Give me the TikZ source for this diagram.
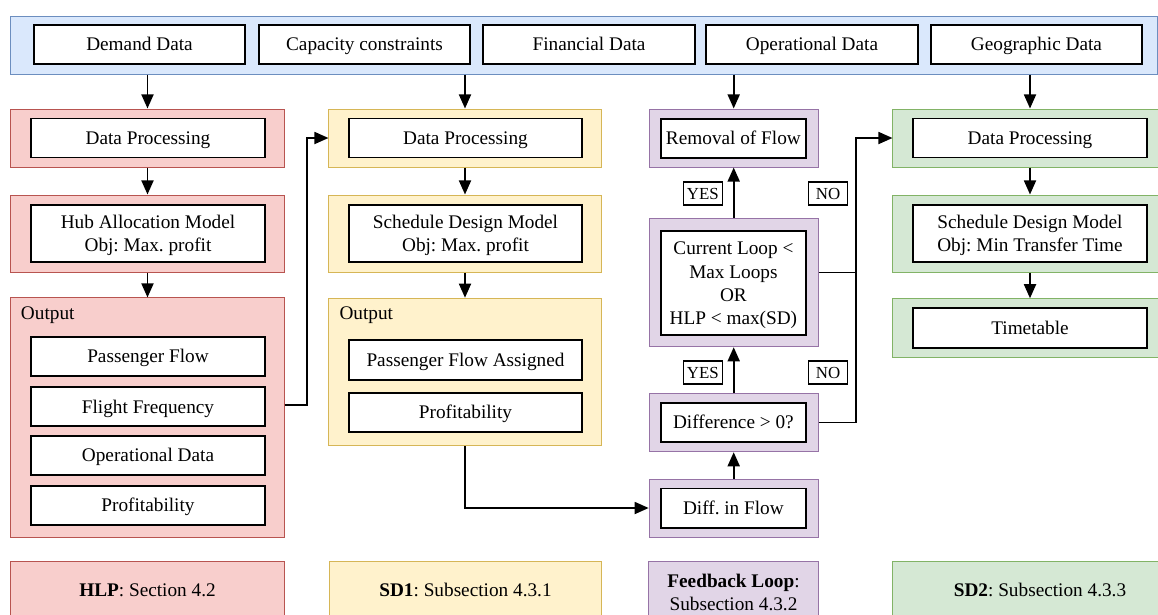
\documentclass[tikz,border=0pt]{standalone}
\usepackage{fontspec}
\setmainfont{Liberation Serif}
\usepackage{xcolor}
\usepackage{tikz}
\usetikzlibrary{arrows, arrows.meta}
\frenchspacing

\definecolor{bandfill}{HTML}{DAE8FC}
\definecolor{bandline}{HTML}{6C8EBF}
\definecolor{hlpfill}{HTML}{F8CECC}
\definecolor{hlpline}{HTML}{B85450}
\definecolor{sdafill}{HTML}{FFF2CC}
\definecolor{sdaline}{HTML}{D6B656}
\definecolor{fbfill}{HTML}{E1D5E7}
\definecolor{fbline}{HTML}{9673A6}
\definecolor{sdbfill}{HTML}{D5E8D4}
\definecolor{sdbline}{HTML}{82B366}

% strut for the first line of multi-line boxes
\newcommand{\lnstrut}{\rule{0pt}{12.2pt}}

\tikzset{
  every node/.style={font=\fontsize{13.7}{16.4}\selectfont},
  oneline/.style={text height=12.2pt, text depth=3pt},
  grp/.style={line width=0.7pt, inner sep=0pt, align=center},
  band/.style={grp, draw=bandline, fill=bandfill},
  hlp/.style={grp, draw=hlpline, fill=hlpfill, minimum width=6.825cm},
  sda/.style={grp, draw=sdaline, fill=sdafill, minimum width=6.8cm},
  fb/.style={grp, draw=fbline, fill=fbfill, minimum width=4.225cm},
  sdb/.style={grp, draw=sdbline, fill=sdbfill, minimum width=6.85cm},
  item/.style={draw=black, fill=white, line width=1.4pt, align=center, inner sep=1pt,
    minimum width=5.85cm, minimum height=0.975cm},
  itemone/.style={item, oneline},
  tag/.style={draw=black, line width=1.1pt, inner sep=0pt, minimum width=0.975cm,
    minimum height=0.575cm, text height=10.7pt, text depth=2.6pt, font=\fontsize{12}{14}\selectfont},
  arr/.style={-{Triangle[length=10pt,width=8.5pt]}, line width=1.4pt},
  conn/.style={line width=1.4pt}
}

\begin{document}
\begin{tikzpicture}[x=0.025cm, y=-0.025cm]
\clip (0,0) rectangle (1158,614);

%input data
\node[band, minimum width=28.65cm, minimum height=1.45cm] (band) at (584,45) {};
\node[itemone, minimum width=5.275cm] (dem) at (139.5,44.5) {Demand Data};
\node[itemone, minimum width=5.275cm] (cap) at (364.5,44.5) {Capacity constraints};
\node[itemone, minimum width=5.275cm] (fin) at (589,44.5) {Financial Data};
\node[itemone, minimum width=5.275cm] (opd) at (812,44.5) {Operational Data};
\node[itemone, minimum width=5.275cm] (geo) at (1036.5,44.5) {Geographic Data};

%HLP column
\node[hlp, minimum height=1.45cm] (hlpa) at (147.5,138) {};
\node[itemone] (hlpproc) at (148,138) {Data Processing};
\node[hlp, minimum height=1.925cm] (hlpb) at (147.5,233.5) {};
\node[item, minimum height=1.425cm] (hlpmodel) at (148,233.5) {\lnstrut Hub Allocation Model\\Obj: Max. profit};
\node[hlp, minimum height=5.975cm] (hlpout) at (147.5,417.5) {};
\node[anchor=west, inner sep=0pt, oneline] (hlpoutlbl) at (20.7,313) {Output};
\node[itemone] (paxflow) at (148,356.5) {Passenger Flow};
\node[itemone] (freq) at (148,406.8) {Flight Frequency};
\node[itemone] (opdata) at (148,455.5) {Operational Data};
\node[itemone] (hlpprof) at (148,505.5) {Profitability};

%SD1 column
\node[sda, minimum height=1.45cm] (sdaa) at (465,138) {};
\node[itemone, minimum width=5.825cm] (sdaproc) at (465.5,138) {Data Processing};
\node[sda, minimum height=1.925cm] (sdab) at (465,233.5) {};
\node[item, minimum width=5.825cm, minimum height=1.425cm] (sdamodel) at (465.5,233.5) {\lnstrut Schedule Design Model\\Obj: Max. profit};
\node[sda, minimum height=3.6875cm] (sdaout) at (465,372) {};
\node[anchor=west, inner sep=0pt, oneline] (sdaoutlbl) at (339.3,313) {Output};
\node[itemone, minimum width=5.825cm, minimum height=1cm] (paxassign) at (465.5,360) {Passenger Flow Assigned};
\node[itemone, minimum width=5.825cm] (sdaprof) at (465.5,412.5) {Profitability};

%feedback loop column
\node[fb, minimum height=1.45cm] (fba) at (733.7,138) {};
\node[itemone, minimum width=3.625cm] (remflow) at (733.4,138.3) {Removal of Flow};
\node[fb, minimum height=3.21cm] (fbb) at (733.7,282.5) {};
\node[item, minimum width=3.625cm, minimum height=2.6cm] (loopchk) at (733.4,283) {\lnstrut Current Loop <\\Max Loops\\OR\\HLP < max(SD)};
\node[fb, minimum height=1.46cm] (fbc) at (733.7,422.5) {};
\node[itemone, minimum width=3.625cm] (diffchk) at (733.4,422.2) {Difference > 0?};
\node[fb, minimum height=1.45cm] (fbd) at (733.7,508) {};
\node[itemone, minimum width=3.625cm] (diffflow) at (733.4,508) {Diff. in Flow};

\node[tag] (yesa) at (702.8,193.7) {YES};
\node[tag] (noa) at (828,193.7) {NO};
\node[tag] (yesb) at (702.8,372.4) {YES};
\node[tag] (nob) at (828,372.4) {NO};

%SD2 column
\node[sdb, minimum height=1.45cm] (sdba) at (1030,138) {};
\node[itemone] (sdbproc) at (1030,138) {Data Processing};
\node[sdb, minimum height=1.925cm] (sdbb) at (1030,233.5) {};
\node[item, minimum height=1.425cm] (sdbmodel) at (1030,233.5) {\lnstrut Schedule Design Model\\Obj: Min Transfer Time};
\node[sdb, minimum height=1.46cm] (sdbc) at (1030,328) {};
\node[itemone, minimum height=1cm] (ttable) at (1030,328.3) {Timetable};

%legend
\node[hlp, oneline, minimum height=1.475cm] (keyhlp) at (147.5,590.5) {\textbf{HLP}: Section 4.2};
\node[sda, oneline, minimum width=6.815cm, minimum height=1.475cm] (keysda) at (465.5,590.5) {\textbf{SD1}: Subsection 4.3.1};
\node[fb, minimum width=4.245cm, minimum height=1.475cm] (keyfb) at (733.5,590.5) {\lnstrut\textbf{Feedback Loop}:\\Subsection 4.3.2};
\node[sdb, oneline, minimum width=7.35cm, minimum height=1.475cm] (keysdb) at (1040,590.5) {\textbf{SD2}: Subsection 4.3.3};

%arrows from input data
\draw[arr] (band.south -| hlpa) -- (hlpa);
\draw[arr] (band.south -| sdaa) -- (sdaa);
\draw[arr] (band.south -| fba) -- (fba);
\draw[arr] (band.south -| sdba) -- (sdba);

%down arrows
\draw[arr] (hlpa.south) -- (hlpb.north);
\draw[arr] (hlpb.south) -- (hlpout.north);
\draw[arr] (sdaa.south) -- (sdaa.south |- sdab.north);
\draw[arr] (sdab.south) -- (sdab.south |- sdaout.north);
\draw[arr] (sdba.south) -- (sdbb.north);
\draw[arr] (sdbb.south) -- (sdbc.north);

%up arrows
\draw[arr] (fbd.north) -- (fbc.south);
\draw[arr] (fbc.north) -- (fbb.south);
\draw[arr] (fbb.north) -- (fba.south);

\draw[arr] ([yshift=0.05cm]freq -| hlpout.east) -- ++(22.5,0) |- (sdaa.west);
\draw[arr] (sdaout.south) |- (fbd.west);

\draw[arr] (fbc.east) -- ++(37.5,0) coordinate (nojoin) |- (sdba.west);
\draw[conn] ([yshift=0.25cm]fbb.east) -- ([yshift=0.25cm]fbb.east -| nojoin);

\end{tikzpicture}
\end{document}
